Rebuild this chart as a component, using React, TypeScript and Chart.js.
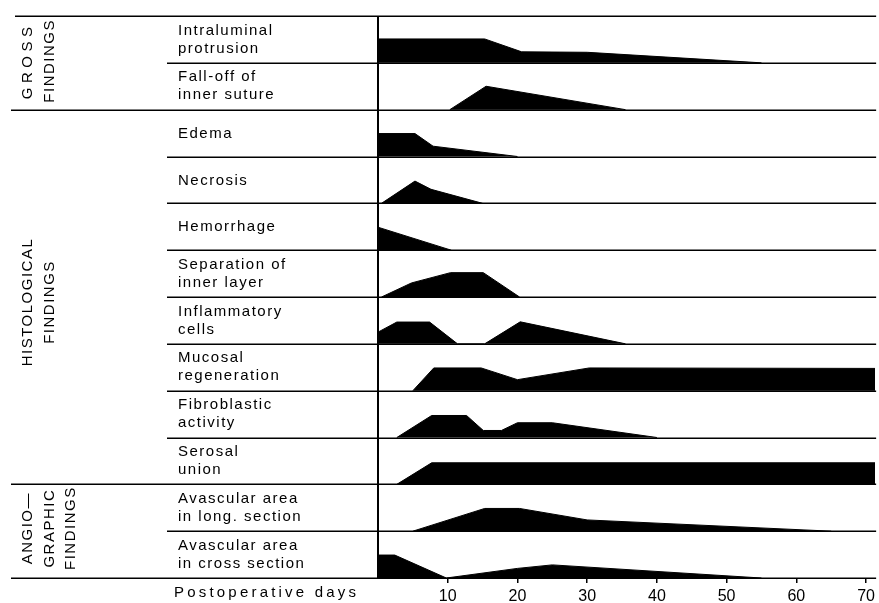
import React, { useEffect, useRef } from "react";
import { Chart, registerables } from "chart.js";

Chart.register(...registerables);

// ---- Data: [postoperative day, intensity level (1 = strongest)] ----
const INTRALUMINAL_PROTRUSION = [[0, 1.02], [15.3, 1.02], [20.6, 0.47], [30, 0.45], [55, 0]];
const FALL_OFF_INNER_SUTURE = [[10.3, 0], [15.5, 1.0], [35.5, 0]];
const EDEMA = [[0, 0.98], [5.3, 0.98], [7.9, 0.44], [20, 0]];
const NECROSIS = [[0.5, 0], [5.3, 0.95], [7.6, 0.6], [15, 0]];
const HEMORRHAGE = [[0, 0.98], [10.5, 0]];
const SEPARATION_INNER_LAYER = [[0.5, 0], [4.8, 0.6], [10.4, 1.04], [15.1, 1.04], [20.3, 0]];
const INFLAMMATORY_CELLS = [[0, 0.5], [2.7, 0.93], [7.4, 0.93], [11.4, 0], [15.3, 0], [20.4, 0.94], [35.5, 0]];
const MUCOSAL_REGENERATION = [[5, 0], [8, 0.97], [14.8, 0.97], [20, 0.47], [30.3, 0.97], [71.3, 0.95]];
const FIBROBLASTIC_ACTIVITY = [[2.7, 0], [7.7, 0.94], [12.7, 0.94], [15.1, 0.3], [17.7, 0.3], [20, 0.63], [25, 0.63], [40, 0]];
const SEROSAL_UNION = [[2.7, 0], [7.7, 0.92], [71.3, 0.92]];
const AVASCULAR_LONG = [[5, 0], [15.3, 0.97], [20.3, 0.97], [30, 0.48], [65, 0]];
const AVASCULAR_CROSS = [[0, 0.98], [2.4, 0.98], [9.8, 0], [20, 0.41], [25, 0.56], [55, 0]];

const ROW_SERIES = [
  INTRALUMINAL_PROTRUSION,
  FALL_OFF_INNER_SUTURE,
  EDEMA,
  NECROSIS,
  HEMORRHAGE,
  SEPARATION_INNER_LAYER,
  INFLAMMATORY_CELLS,
  MUCOSAL_REGENERATION,
  FIBROBLASTIC_ACTIVITY,
  SEROSAL_UNION,
  AVASCULAR_LONG,
  AVASCULAR_CROSS,
];

const ROW_LABELS = [
  ["Intraluminal", "protrusion"],
  ["Fall-off of", "inner suture"],
  ["Edema"],
  ["Necrosis"],
  ["Hemorrhage"],
  ["Separation of", "inner layer"],
  ["Inflammatory", "cells"],
  ["Mucosal", "regeneration"],
  ["Fibroblastic", "activity"],
  ["Serosal", "union"],
  ["Avascular area", "in long. section"],
  ["Avascular area", "in cross section"],
];

const GROUP_LABELS = [["GROSS", "FINDINGS"], ["HISTOLOGICAL", "FINDINGS"], ["ANGIO\u2014", "GRAPHIC", "FINDINGS"]];
const GROUP_FIRST_ROW = [0, 2, 10];
const GROUP_LAST_ROW = [1, 9, 11];

const X_TICKS = [10, 20, 30, 40, 50, 60, 70];
const X_MIN = 0;
const X_MAX = 71.3;
const X_TITLE = "Postoperative days";

const ROW_COUNT = ROW_SERIES.length;
const ROW_SPAN = 2;
const FONT = '"Liberation Sans", Arial, Helvetica, sans-serif';

const rowBase = (i: number) => (ROW_COUNT - 1 - i) * ROW_SPAN;

const framePlugin = {
  id: "frame",
  afterDatasetsDraw(chart: any) {
    const { ctx, chartArea, scales } = chart;
    const y = scales.y;
    const x = scales.x;
    const groupEdges = new Set<number>();
    GROUP_FIRST_ROW.forEach((r) => groupEdges.add(r));
    GROUP_LAST_ROW.forEach((r) => groupEdges.add(r + 1));
    ctx.save();
    ctx.strokeStyle = "#000";
    ctx.lineWidth = 1.5;
    for (let b = 0; b <= ROW_COUNT; b++) {
      const py = Math.round(y.getPixelForValue((ROW_COUNT - b) * ROW_SPAN)) + 0.25;
      const startX = groupEdges.has(b) ? (b === 0 ? 15 : 11) : 167;
      ctx.beginPath();
      ctx.moveTo(startX, py);
      ctx.lineTo(chartArea.right + 1, py);
      ctx.stroke();
    }
    // vertical axis at day 0
    const x0 = x.getPixelForValue(0);
    ctx.lineWidth = 2;
    ctx.beginPath();
    ctx.moveTo(x0, y.getPixelForValue(ROW_COUNT * ROW_SPAN));
    ctx.lineTo(x0, y.getPixelForValue(0));
    ctx.stroke();
    ctx.restore();
  },
  afterDraw(chart: any) {
    const { ctx, scales } = chart;
    const y = scales.y;
    ctx.save();
    ctx.fillStyle = "#000";
    ctx.font = `15px ${FONT}`;
    (ctx as any).letterSpacing = "1.5px";
    ctx.textBaseline = "middle";
    ctx.textAlign = "left";
    ROW_LABELS.forEach((lines, i) => {
      const cy = y.getPixelForValue(rowBase(i) + ROW_SPAN / 2);
      if (lines.length === 1) {
        ctx.fillText(lines[0], 178, cy + 0.5);
      } else {
        ctx.fillText(lines[0], 178, cy - 9);
        ctx.fillText(lines[1], 178, cy + 9);
      }
    });
    // group labels (rotated)
    GROUP_LABELS.forEach((lines, g) => {
      const top = y.getPixelForValue(rowBase(GROUP_FIRST_ROW[g]) + ROW_SPAN);
      const bottom = y.getPixelForValue(rowBase(GROUP_LAST_ROW[g]));
      const cy = (top + bottom) / 2 + (g === 1 ? 5 : g === 2 ? -3 : -2);
      lines.forEach((t, k) => {
        ctx.save();
        ctx.translate(28 + k * 21.5, cy);
        ctx.rotate(-Math.PI / 2);
        ctx.textAlign = "center";
        (ctx as any).letterSpacing = t === "GROSS" ? "4.5px" : "1.5px";
        ctx.fillText(t, 0, 0);
        ctx.restore();
      });
    });
    // x title
    ctx.font = `15px ${FONT}`;
    (ctx as any).letterSpacing = "3.2px";
    ctx.textAlign = "left";
    ctx.fillText(X_TITLE, 174, y.getPixelForValue(0) + 15);
    ctx.restore();
  },
};

export default function App() {
  const canvasRef = useRef<HTMLCanvasElement | null>(null);

  useEffect(() => {
    document.body.style.margin = "0";
    const canvas = canvasRef.current;
    if (!canvas) return;
    const datasets = ROW_SERIES.map((pts, i) => ({
      label: ROW_LABELS[i].join(" "),
      data: pts.map(([d, l]) => ({ x: d, y: rowBase(i) + l })),
      fill: { value: rowBase(i) },
      backgroundColor: "#000",
      borderColor: "#000",
      borderWidth: 1,
      pointRadius: 0,
      tension: 0,
    }));
    const chart = new Chart(canvas, {
      type: "line",
      data: { datasets },
      options: {
        animation: false,
        responsive: false,
        events: [],
        layout: { padding: { left: 378, right: 2, top: 16, bottom: 0 } },
        plugins: { legend: { display: false }, tooltip: { enabled: false } },
        scales: {
          x: {
            type: "linear",
            min: X_MIN,
            max: X_MAX,
            afterBuildTicks: (scale: any) => {
              scale.ticks = X_TICKS.map((v) => ({ value: v }));
            },
            afterFit: (scale: any) => {
              scale.height = 25;
            },
            border: { display: false },
            grid: { drawOnChartArea: false, drawTicks: true, tickLength: 5, color: "#000", lineWidth: 1.5 },
            ticks: {
              color: "#000",
              padding: 4,
              maxRotation: 0,
              autoSkip: false,
              font: { family: FONT, size: 16 },
              callback: (v: any) => String(v),
            },
          },
          y: {
            type: "linear",
            min: 0,
            max: ROW_COUNT * ROW_SPAN,
            display: false,
          },
        },
      },
      plugins: [framePlugin],
    } as any);
    return () => chart.destroy();
  }, []);

  return (
    <div style={{ position: "absolute", left: 0, top: 0, width: 879, height: 603, background: "#fff" }}>
      <canvas ref={canvasRef} width={879} height={603} style={{ width: 879, height: 603 }} />
    </div>
  );
}
